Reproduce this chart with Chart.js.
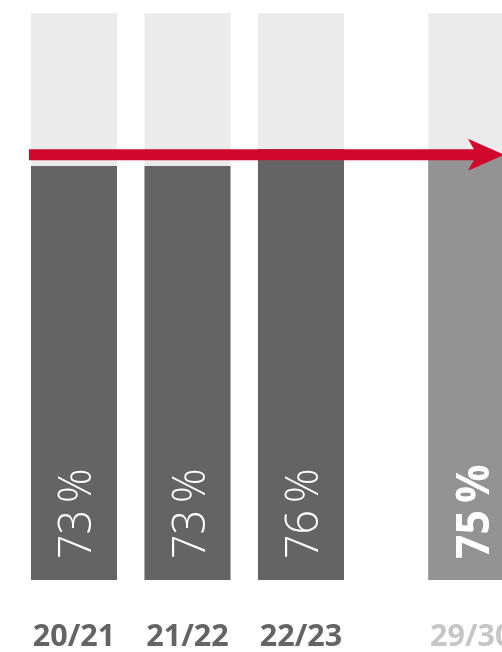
<!DOCTYPE html>
<html>
<head>
<meta charset="utf-8">
<script src="https://cdn.jsdelivr.net/npm/chart.js@4/dist/chart.umd.min.js"></script>
<style>
  html, body { margin: 0; padding: 0; background: #ffffff; }
  #wrap { position: relative; width: 502px; height: 652px; }
</style>
</head>
<body>
<div id="wrap"><canvas id="chart"></canvas></div>
<script>
// School years shown, and where they sit along the axis (gap before the target year)
const years = ['20/21', '21/22', '22/23', '29/30'];
const positions = [0, 1, 2, 3.5];
// Share in percent per year; the last one is the target
const shares = [73, 73, 76, 75];
// Full-height track behind every bar
const track = [100, 100, 100, 100];
// Target level marked by the arrow
const target = 75;

const barColors = ['#646464', '#646464', '#646464', '#939393'];
const labelColors = ['#646464', '#646464', '#646464', '#c6c6c6'];
const isTarget = [false, false, false, true];

const FONT = '"Open Sans", "Noto Sans", sans-serif';

// Rotated percentage labels inside the bars plus the target arrow
const overlay = {
  id: 'overlay',
  afterDatasetsDraw(chart) {
    const ctx = chart.ctx;
    const meta = chart.getDatasetMeta(1);
    const y = chart.scales.y;

    meta.data.forEach((bar, i) => {
      const size = 46;
      const weight = isTarget[i] ? 700 : 300;
      ctx.save();
      ctx.font = weight + ' ' + size + 'px ' + FONT;
      ctx.fillStyle = '#ffffff';
      ctx.textAlign = 'left';
      ctx.textBaseline = 'alphabetic';
      ctx.translate(bar.x + size * 0.714 / 2 + 1, bar.base - 21);
      ctx.rotate(-Math.PI / 2);
      ctx.scale(0.93, 1);
      ctx.fillText(shares[i] + '\u2009%', 0, 0);
      ctx.restore();
    });

    // Arrow at the target level, running off the right edge
    const first = chart.getDatasetMeta(0).data[0];
    const cy = y.getPixelForValue(target);
    const x0 = first.x - first.width / 2 - 2;
    const tip = chart.width + 2;
    const half = 5.5;
    ctx.save();
    ctx.fillStyle = '#d1082d';
    ctx.beginPath();
    ctx.moveTo(x0, cy - half);
    ctx.lineTo(tip - 30, cy - half);
    ctx.quadraticCurveTo(tip - 33, cy - 10, tip - 36, cy - 16);
    ctx.lineTo(tip, cy);
    ctx.lineTo(tip - 36, cy + 16);
    ctx.quadraticCurveTo(tip - 33, cy + 10, tip - 30, cy + half);
    ctx.lineTo(x0, cy + half);
    ctx.closePath();
    ctx.fill();
    ctx.restore();
  }
};

new Chart(document.getElementById('chart'), {
  type: 'bar',
  data: {
    datasets: [
      {
        label: 'track',
        data: positions.map((x, i) => ({ x, y: track[i] })),
        backgroundColor: '#ebebeb',
        grouped: false,
        order: 2,
        barPercentage: 0.758,
        categoryPercentage: 1
      },
      {
        label: 'share',
        data: positions.map((x, i) => ({ x, y: shares[i] })),
        backgroundColor: barColors,
        grouped: false,
        order: 1,
        barPercentage: 0.758,
        categoryPercentage: 1
      }
    ]
  },
  options: {
    responsive: true,
    maintainAspectRatio: false,
    animation: false,
    layout: { padding: { top: 13, left: 0, right: 0, bottom: 0 } },
    plugins: { legend: { display: false }, tooltip: { enabled: false } },
    scales: {
      x: {
        type: 'linear',
        offset: false,
        min: -0.652,
        max: 3.771,
        grid: { display: false, drawTicks: false, offset: false },
        border: { display: false },
        afterBuildTicks(scale) {
          scale.ticks = positions.map(v => ({ value: v }));
        },
        afterFit(scale) {
          scale.height = 72;
          // let the last year label run off the right edge
          scale.paddingLeft = 0;
          scale.paddingRight = 0;
        },
        ticks: {
          autoSkip: false,
          maxRotation: 0,
          padding: 39,
          color: ctx => labelColors[ctx.index],
          font: { family: FONT, size: 30.5, weight: 700 },
          callback: (value, index) => years[index]
        }
      },
      y: {
        display: false,
        min: 0,
        max: 100
      }
    }
  },
  plugins: [overlay]
});
</script>
</body>
</html>
